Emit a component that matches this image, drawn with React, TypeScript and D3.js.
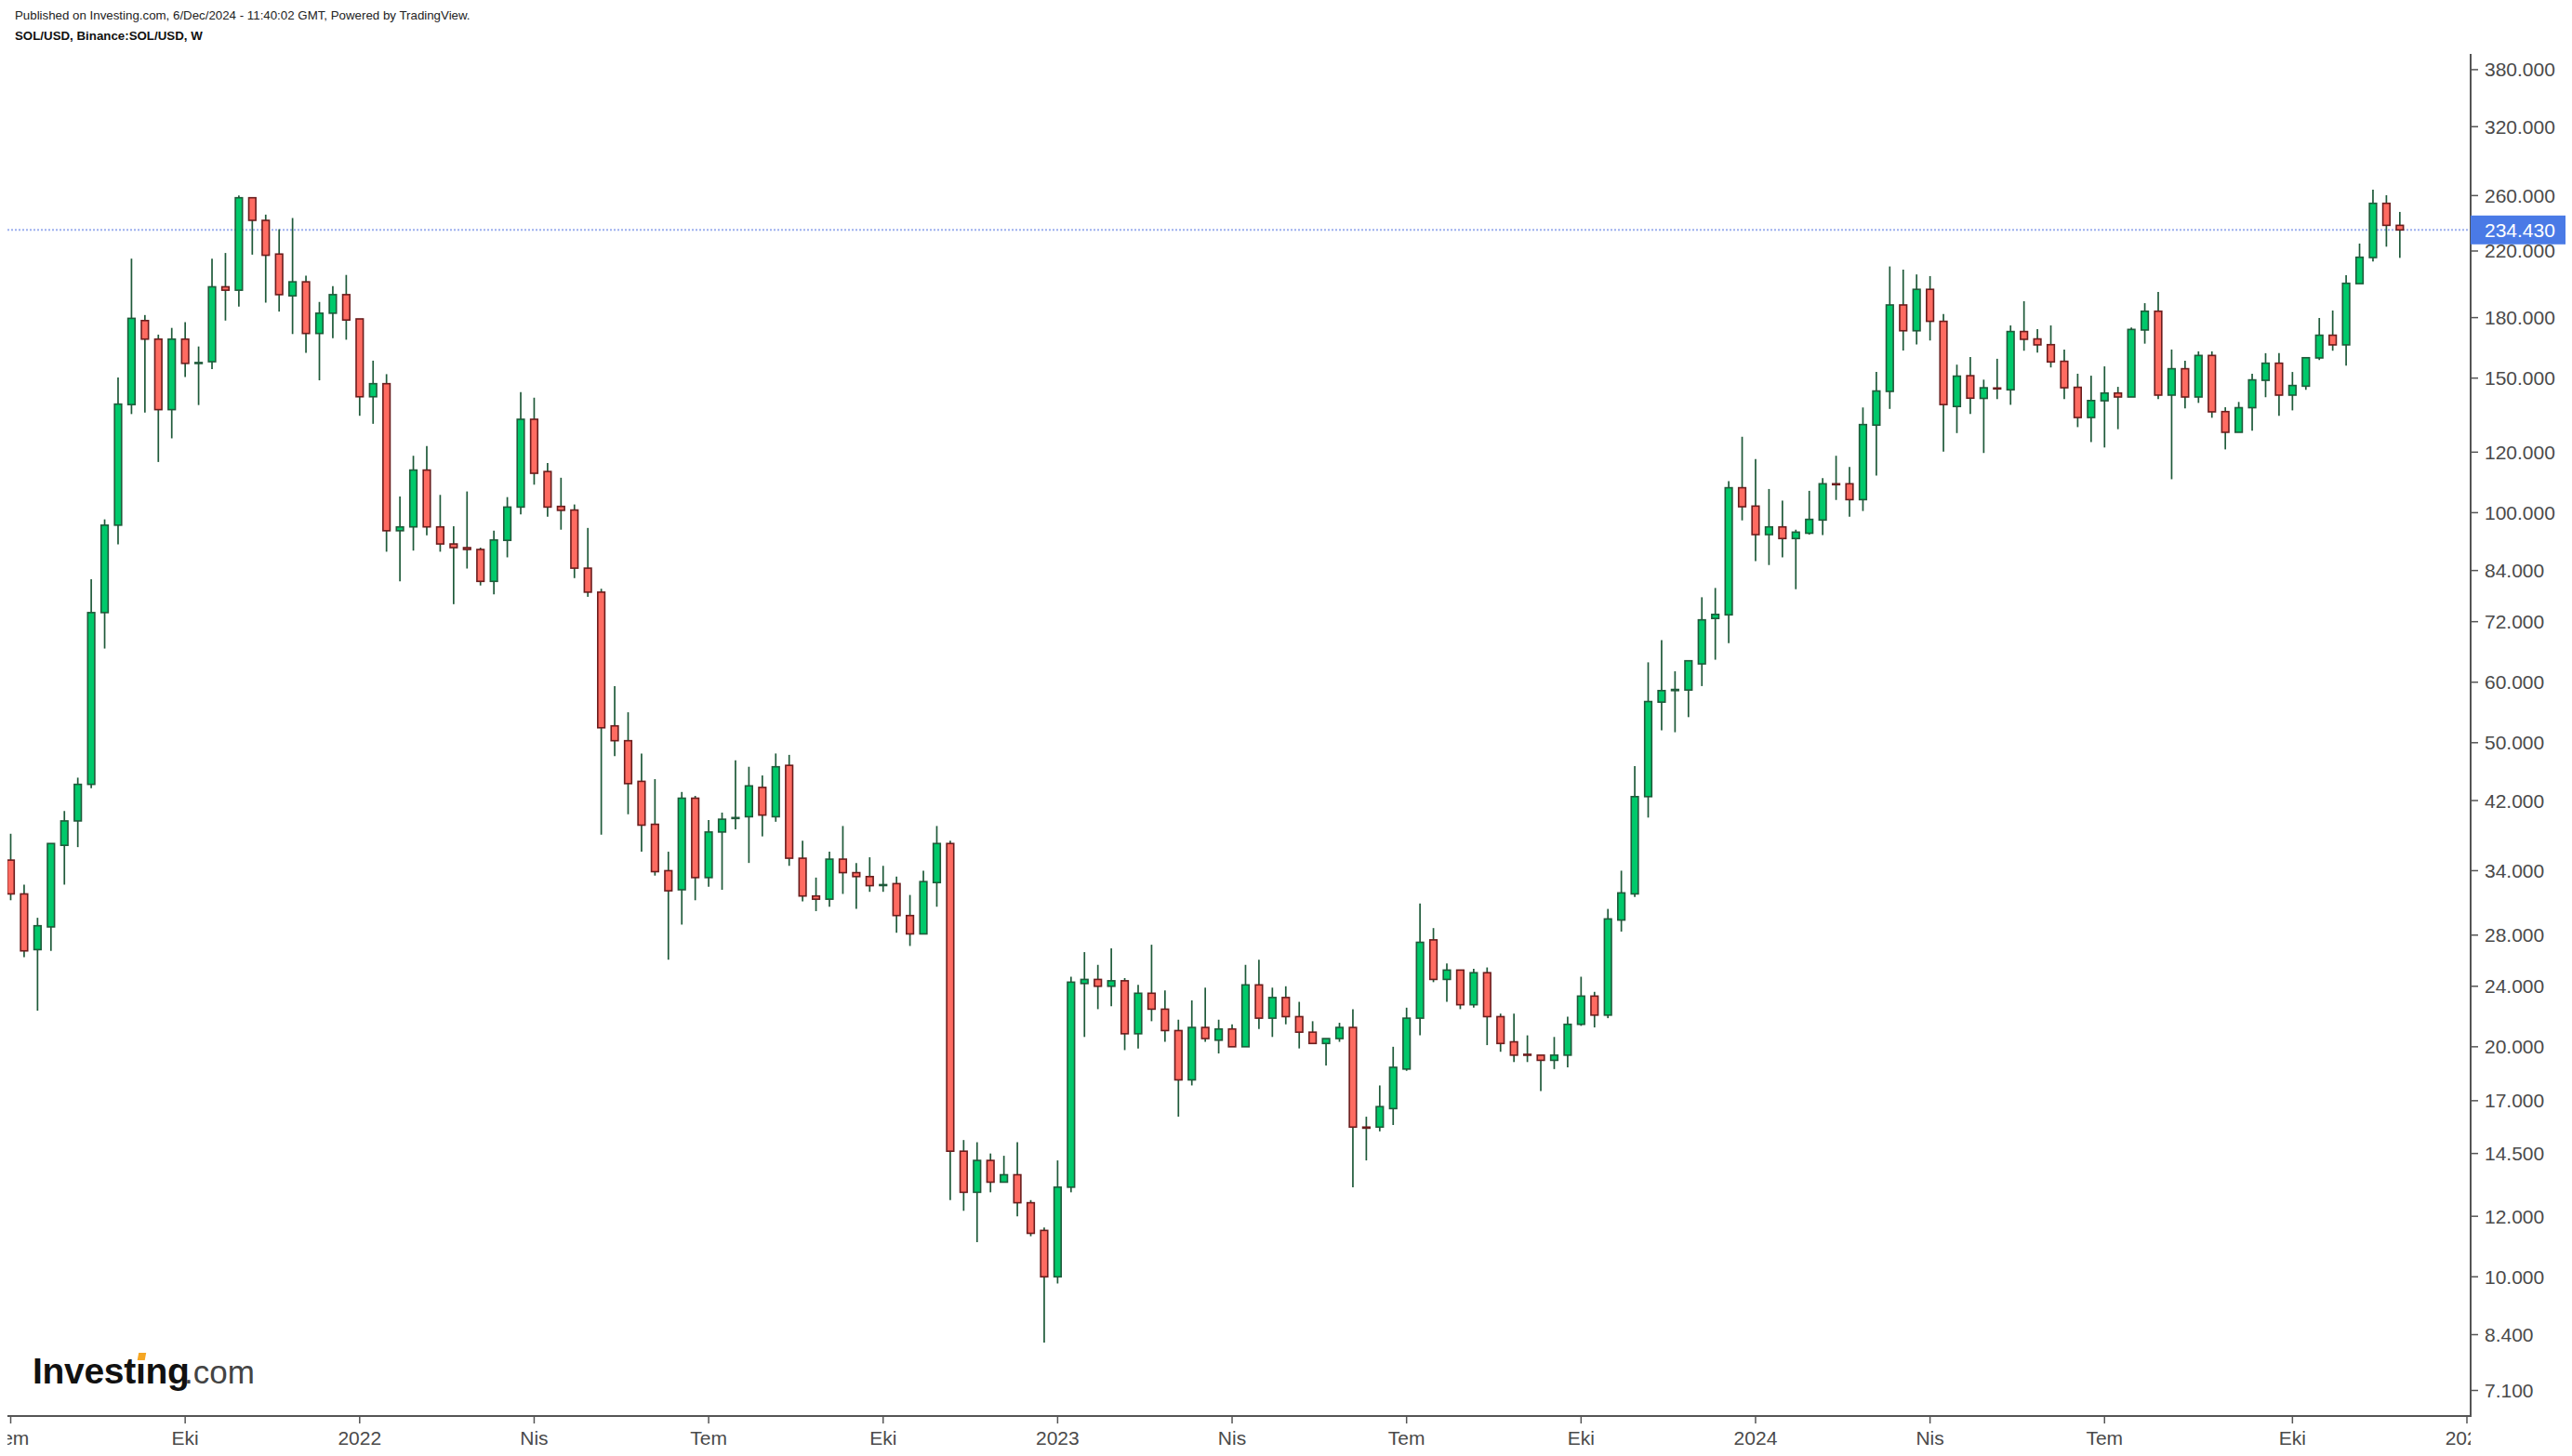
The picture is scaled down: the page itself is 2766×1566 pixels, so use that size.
import React, { useLayoutEffect, useRef, useState } from "react";
import * as d3 from "d3";

const W = 2766;
const H = 1566;

const startWeek = "2021-07-05";

const open = [35.1,31.7,26.8,28.7,36.7,39.5,44.1,74.0,96.3,138.5,178.4,168.7,136.4,168.7,156.8,157.6,197.5,195.5,258.3,241.3,218.0,192.2,200.5,171.6,182.4,192.9,179.3,141.8,147.5,94.7,
95.8,113.7,95.8,91.0,90.0,89.5,81.3,92.0,101.7,132.5,113.2,101.9,100.8,84.6,78.7,52.6,50.3,44.5,39.1,34.0,32.1,42.3,33.3,38.2,39.8,40.0,43.7,40.0,46.7,35.3,
31.5,31.2,35.2,33.8,33.4,32.55,32.7,29.7,28.1,32.8,36.9,14.6,12.9,14.2,13.3,13.6,12.5,11.5,10.0,13.1,24.2,24.5,24.0,24.4,20.8,23.5,22.4,21.0,18.1,21.2,
20.4,21.1,20.0,24.1,21.8,23.2,21.9,20.9,20.2,20.5,21.2,15.7,15.7,16.6,18.7,21.8,27.6,24.5,25.2,22.7,25.0,21.9,20.3,19.55,19.5,19.2,19.5,21.4,23.3,22.0,
29.3,31.7,42.5,56.5,58.5,58.6,63.4,72.7,73.5,107.8,102.0,93.6,95.8,92.5,94.0,97.8,109.1,109.1,104.0,130.2,144.1,187,173,196,178,137.7,151.1,141.1,145.6,144.8,
172.6,168.8,165.9,157.8,145.9,133.2,140.1,143.4,141.7,173.4,183.5,142.5,154.3,141.7,160.6,135.6,127.4,137.2,149.0,156.9,142.5,146.4,159.4,170.7,165.8,199.4,215.7,254.0,237.7];

const high = [38.0,32.6,29.5,36.9,40.7,45.0,81.8,98.0,150.3,215.0,181.4,171.0,174.5,177.5,165.0,215.0,218.7,260.1,258.3,245.5,234.9,243.0,204.3,188.7,197.9,204.7,179.3,158.1,151.8,105.0,
118.7,122.2,105.5,96.0,106.6,90.0,94.7,104.8,143.8,141.4,116.1,111.1,102.5,95.5,79.5,59.3,54.8,48.4,44.8,36.0,43.1,42.6,39.6,40.5,47.4,46.5,45.3,48.4,48.2,37.2,
33.3,36.0,38.9,34.8,35.4,34.5,33.4,31.6,34.0,38.9,37.2,15.1,15.0,14.5,14.4,15.0,12.6,11.6,14.2,24.7,26.6,25.6,26.9,24.6,24.1,27.2,23.7,21.7,23.0,23.9,
21.7,21.4,25.6,26.0,23.9,24.0,22.9,21.6,20.5,21.5,22.4,16.2,17.8,20.0,22.5,30.8,28.6,25.7,25.2,25.3,25.4,22.1,22.1,20.7,19.5,20.6,21.9,24.7,23.6,30.3,
34.0,46.6,63.7,68.1,62.0,64.0,77.5,79.7,110.0,125.7,117.5,107.4,103.7,95.0,106.8,111.0,118.7,114.8,137.3,152.8,210,208,205,204,182,156.2,159.8,149.3,159.0,175.8,
189.1,173.9,175.8,163.5,152.0,151.1,155.4,146.1,174.7,188.0,194.5,163.5,158.1,162.6,162.6,137.4,139.6,152.0,161.7,161.7,152.8,159.5,179.8,183.9,204.5,225.0,264.7,260.3,247.5];

const low = [31.1,26.2,22.3,26.7,32.6,36.5,43.6,66.4,90.9,134.6,135.2,116.5,125.1,150.5,138.3,154.1,178.4,186.1,217.6,188.3,183.3,171.3,161.9,149.0,169.2,168.4,133.9,130.7,88.9,81.3,
89.2,93.4,88.9,75.9,84.5,80.3,78.2,87.4,99.5,108.8,98.8,95.0,82.1,77.6,37.9,48.0,40.3,36.0,33.5,26.0,28.9,31.1,32.4,32.1,38.5,34.8,37.7,39.4,34.5,31.0,
30.1,30.5,31.7,30.3,31.9,31.9,28.2,27.1,28.1,30.5,12.6,12.2,11.1,12.9,13.3,12.0,11.3,8.2,9.8,12.9,20.6,22.4,22.6,19.8,19.9,21.6,20.3,16.2,17.8,20.3,
19.6,20.0,20.0,21.1,20.6,21.4,19.9,20.2,18.9,20.3,13.1,14.2,15.5,15.8,18.6,20.7,24.3,22.9,22.4,22.5,20.1,19.7,19.1,19.1,17.5,18.7,18.8,21.3,21.2,21.8,
28.3,31.4,39.9,51.9,51.6,54.0,59.3,64.2,67.5,97.7,86.4,85.4,87.4,79.4,93.6,93.5,103.9,98.8,100.5,111.8,136.7,163,166,168,120.2,127.1,134.6,119.7,140.8,138.4,
162.9,162.0,154.9,140.8,129.4,123.7,121.7,128.6,141.7,166.4,140.8,110.6,136.9,139.2,133.1,121.0,127.4,128.0,141.6,133.9,136.1,144.8,158.4,162.9,155.7,199.4,213.1,222.9,215.5];

const close = [31.7,26.7,28.8,36.9,39.5,44.1,74.0,96.3,138.7,179.6,168.7,136.4,168.7,156.8,157.2,197.5,195.5,258.3,241.3,217.2,192.9,200.5,171.6,182.4,192.9,178.7,141.8,147.5,94.7,95.8,
113.7,95.8,91.0,90.0,89.5,81.3,92.1,101.7,132.5,112.6,101.7,100.7,84.6,78.7,52.3,50.3,44.2,39.0,33.9,32.0,42.3,33.3,38.2,39.7,39.9,43.9,40.2,46.5,35.3,31.5,
31.2,35.2,33.8,33.4,32.5,32.6,29.7,28.1,32.9,36.9,14.6,12.9,14.2,13.3,13.6,12.5,11.4,10.0,13.1,24.3,24.5,24.0,24.4,20.8,23.5,22.4,21.0,18.1,21.2,20.5,
21.1,20.0,24.1,21.8,23.2,21.9,20.9,20.2,20.5,21.2,15.7,15.65,16.7,18.8,21.8,27.4,24.5,25.2,22.7,25.0,21.9,20.2,19.5,19.5,19.2,19.5,21.4,23.3,22.0,29.4,
31.8,42.5,56.6,58.5,58.7,64.0,72.4,73.6,107.8,101.8,93.6,95.8,92.5,94.3,98.0,109.1,109.0,104.0,130.4,144.3,187,173,196,178,138.5,150.9,141.2,145.7,145.4,172.6,
168.6,165.8,157.5,145.7,133.2,140.2,143.4,141.7,173.7,183.5,142.5,154.3,141.7,160.6,135.5,127.4,137.2,149.2,156.9,142.5,146.7,159.5,170.7,165.8,199.6,215.9,254.0,237.7,234.43];

const yTicks = [380, 320, 260, 220, 180, 150, 120, 100, 84, 72, 60, 50, 42, 34, 28, 24, 20, 17, 14.5, 12, 10, 8.4, 7.1];

const xTicks: [string, string][] = [
  ["2021-07-05", "Tem"], ["2021-10-04", "Eki"], ["2022-01-03", "2022"], ["2022-04-04", "Nis"],
  ["2022-07-04", "Tem"], ["2022-10-03", "Eki"], ["2023-01-02", "2023"], ["2023-04-03", "Nis"],
  ["2023-07-03", "Tem"], ["2023-10-02", "Eki"], ["2024-01-01", "2024"], ["2024-04-01", "Nis"],
  ["2024-07-01", "Tem"], ["2024-10-07", "Eki"], ["2025-01-06", "2025"],
];

const lastPrice = 234.43;

const FONT = "'Liberation Sans', Arial, sans-serif";
const plotLeft = 8;
const plotRight = 2657;
const axisY = 1523;
const axisTop = 58;

const GREEN = "#00c96b";
const RED = "#ff6b61";
const GREEN_EDGE = "#1f5a3a";
const RED_EDGE = "#6b1d1d";

function Logo() {
  const ref = useRef<SVGTextElement>(null);
  const [dot, setDot] = useState<{ x: number; w: number } | null>(null);
  useLayoutEffect(() => {
    const el = ref.current;
    if (!el) return;
    try {
      const ext = el.getExtentOfChar(6);
      setDot({ x: ext.x + ext.width / 2, w: ext.width });
    } catch (e) {
      setDot({ x: 150, w: 11 });
    }
  }, []);
  return (
    <g>
      <text ref={ref} x={35} y={1488} fontSize={39} fontWeight="bold" fill="#111" letterSpacing={-0.3}>
        {"Invest\u0131ng"}
      </text>
      {dot && (
        <path
          d={`M${dot.x - 3.5} ${1463} L${dot.x + 4.5} ${1463} L${dot.x + 6} ${1455} L${dot.x - 2} ${1455} Z`}
          fill="#f5a623"
        />
      )}
      <text x={198} y={1488} fontSize={35} fill="#444">
        .com
      </text>
    </g>
  );
}

export default function App() {
  const parse = d3.utcParse("%Y-%m-%d");
  const t0 = parse(startWeek)!;
  const x = d3
    .scaleUtc()
    .domain([t0, parse("2025-01-06")!])
    .range([11.5, 2653]);
  const y = d3.scaleLog().domain([7.1, 380]).range([1495.5, 74.9]);
  const fmt = d3.format(".3f");

  const candles = open.map((o, i) => ({
    t: d3.utcMonday.offset(t0, i),
    o,
    h: high[i],
    l: low[i],
    c: close[i],
  }));

  const bw = 7.6;

  return (
    <svg
      width={W}
      height={H}
      style={{ position: "absolute", left: 0, top: 0, background: "#fff" }}
      fontFamily={FONT}
    >
      <defs>
        <clipPath id="plot">
          <rect x={plotLeft} y={0} width={plotRight - plotLeft} height={axisY} />
        </clipPath>
        <clipPath id="xlab">
          <rect x={plotLeft} y={axisY} width={plotRight - plotLeft} height={H - axisY} />
        </clipPath>
      </defs>
      <rect x={0} y={0} width={W} height={H} fill="#fff" />

      <text x={16} y={21} fontSize={13.3} fill="#222">
        Published on Investing.com, 6/Dec/2024 - 11:40:02 GMT, Powered by TradingView.
      </text>
      <text x={16} y={43} fontSize={13.3} fontWeight="bold" fill="#111">
        SOL/USD, Binance:SOL/USD, W
      </text>

      <g clipPath="url(#plot)">
        <line
          x1={plotLeft}
          x2={plotRight}
          y1={y(lastPrice)}
          y2={y(lastPrice)}
          stroke="#9db0ee"
          strokeWidth={2}
          strokeDasharray="2 2"
        />
        {candles.map((d, i) => {
          const cx = x(d.t);
          const up = d.c >= d.o;
          const top = y(Math.max(d.o, d.c));
          const bot = y(Math.min(d.o, d.c));
          return (
            <g key={i}>
              <line x1={cx} x2={cx} y1={y(d.h)} y2={y(d.l)} stroke={GREEN_EDGE} strokeWidth={1.7} />
              <rect
                x={cx - bw / 2}
                y={top}
                width={bw}
                height={Math.max(bot - top, 1)}
                fill={up ? GREEN : RED}
                stroke={up ? GREEN_EDGE : RED_EDGE}
                strokeWidth={1.6}
              />
            </g>
          );
        })}
      </g>

      <Logo />

      {/* x axis */}
      <line x1={plotLeft} x2={plotRight} y1={axisY} y2={axisY} stroke="#555" strokeWidth={2} />
      {xTicks.map(([d], i) => {
        const xx = x(parse(d)!);
        return (
          <line key={i} x1={xx} x2={xx} y1={axisY} y2={axisY + 8} stroke="#555" strokeWidth={1.5} />
        );
      })}
      <g clipPath="url(#xlab)">
        {xTicks.map(([d, lab], i) => (
          <text
            key={i}
            x={x(parse(d)!)}
            y={1554}
            fontSize={21}
            fill="#4a4a4a"
            textAnchor="middle"
          >
            {lab}
          </text>
        ))}
      </g>

      {/* y axis */}
      <line x1={plotRight} x2={plotRight} y1={axisTop} y2={axisY + 1} stroke="#555" strokeWidth={2} />
      {yTicks.map((v, i) => (
        <g key={i}>
          <line x1={plotRight} x2={plotRight + 8} y1={y(v)} y2={y(v)} stroke="#555" strokeWidth={1.5} />
          <text x={2672} y={y(v)} fontSize={21} fill="#4a4a4a" dominantBaseline="central">
            {fmt(v)}
          </text>
        </g>
      ))}

      <rect x={plotRight} y={y(lastPrice) - 15.5} width={102} height={31} fill="#4a7ae6" />
      <text x={2672} y={y(lastPrice)} fontSize={21} fill="#fff" dominantBaseline="central">
        {fmt(lastPrice)}
      </text>
    </svg>
  );
}
